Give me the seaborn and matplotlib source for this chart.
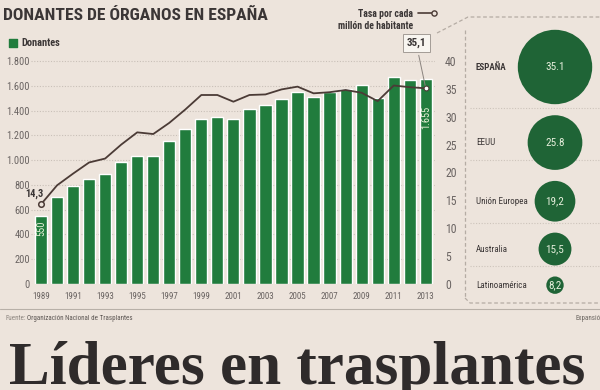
import numpy as np
import matplotlib
matplotlib.use("Agg")
import matplotlib.pyplot as plt
import seaborn as sns
from matplotlib import font_manager

# data
years = [str(y) for y in range(1989, 2014)]
donantes = [550, 705, 792, 848, 889, 985, 1037, 1032, 1155, 1250, 1334, 1345, 1335,
            1409, 1443, 1495, 1546, 1509, 1550, 1577, 1606, 1502, 1667, 1643, 1655]
tasa = [14.3, 17.7, 19.8, 21.8, 22.5, 25.0, 27.2, 26.9, 28.9, 31.3, 33.9, 33.9, 32.7,
        33.9, 34.0, 34.9, 35.4, 34.2, 34.4, 34.8, 34.3, 32.8, 35.6, 35.3, 35.1]
paises = ["ESPAÑA", "EEUU", "Unión Europea", "Australia", "Latinoamérica"]
tasa_paises = [35.1, 25.8, 19.2, 15.5, 8.2]
etiquetas_paises = ["35.1", "25.8", "19,2", "15,5", "8,2"]

BG = "#ede4dc"
GREEN = "#217c3d"
DKGREEN = "#1f6436"
LINE = "#4b3b36"
GRAY = "#6a6462"
DARK = "#3b3636"

sns.set_theme(style="white")
# pick a narrow face if one is installed
entries = font_manager.fontManager.ttflist
narrow = "DejaVu Sans"
for nm in ["Liberation Sans Narrow", "Roboto Condensed", "Open Sans Condensed"]:
    if any(f.name == nm for f in entries):
        narrow = nm
        break
plt.rcParams["font.family"] = [narrow, "DejaVu Sans"]
plt.rcParams["font.stretch"] = "condensed"

fig = plt.figure(figsize=(6, 3.9), dpi=100, facecolor=BG)

# main chart, bars on left axis
ax = fig.add_axes([31.4 / 600, 1 - 284 / 390, 404 / 600, 235.4 / 390])
ax.set_facecolor("none")
sns.barplot(x=years, y=donantes, color=GREEN, saturation=1, width=0.76, ax=ax, zorder=2)
ax.set_xlim(-0.6, len(years) - 0.4)
ax.set_ylim(0, 1900)
ax.set_yticks(range(0, 1801, 200))
ax.set_yticklabels([f"{v:,}".replace(",", ".") for v in range(0, 1801, 200)],
                   fontsize=7.5, color=GRAY)
ax.set_xticks(range(0, len(years), 2))
ax.set_xticklabels(years[::2], fontsize=6.5, color=GRAY)
ax.tick_params(axis="x", length=0, pad=6)
ax.tick_params(axis="y", length=0, pad=1)
ax.yaxis.grid(True, linestyle=(0, (1, 1.5)), color="#c9c0b8", linewidth=0.8, zorder=0)
ax.set_axisbelow(True)
for s in ax.spines.values():
    s.set_visible(False)
ax.set_xlabel("")
ax.set_ylabel("")

# bar value labels
ax.text(0, donantes[0] * 0.82, "550", rotation=90, ha="center", va="center",
        color="#e8f0d8", fontsize=7.5)
ax.text(len(years) - 1, donantes[-1] - 310, f"{donantes[-1]:,}".replace(",", "."),
        rotation=90, ha="center", va="center", color="#e8f0d8", fontsize=7.5)

# rate line on right axis
ax2 = ax.twinx()
x_pos = np.arange(len(years))
sns.lineplot(x=x_pos, y=tasa, color=LINE, linewidth=1.3, ax=ax2, zorder=3)
ax2.plot(x_pos[0], tasa[0], "o", ms=4, mfc=BG, mec=LINE, mew=1.1, zorder=4)
ax2.plot(x_pos[-1], tasa[-1], "o", ms=3.5, mfc="white", mec=LINE, mew=0.8, zorder=4)
ax2.set_ylim(0, 1900 / 45)
ax2.set_yticks(range(0, 41, 5))
ax2.set_yticklabels([str(v) for v in range(0, 41, 5)], fontsize=8.5, color=GRAY)
ax2.tick_params(axis="y", length=0, pad=7)
for s in ax2.spines.values():
    s.set_visible(False)
ax2.set_ylabel("")
ax2.text(x_pos[0] - 0.4, tasa[0] + 1.0, "14,3", ha="center", va="bottom",
         fontsize=7.5, fontweight="bold", color=DARK)
ax2.annotate("35,1", xy=(x_pos[-1], tasa[-1]), xytext=(x_pos[-1] - 0.6, 43.2),
             ha="center", va="center", fontsize=8, fontweight="bold", color=DARK,
             bbox=dict(boxstyle="square,pad=0.35", fc="#f8f5f0", ec="#a39c96", lw=0.7),
             arrowprops=dict(arrowstyle="-", color="#8a837e", lw=0.7), annotation_clip=False)

# overlay in pixel coordinates for titles, legend and side panel
ov = fig.add_axes([0, 0, 1, 1])
ov.set_xlim(0, 600)
ov.set_ylim(390, 0)
ov.set_facecolor("none")
ov.axis("off")

ov.text(3, 16, "DONANTES DE ÓRGANOS EN ESPAÑA", fontsize=12.6, fontweight="bold",
        color=DARK, va="center", ha="left")
ov.scatter([13], [43], marker="s", s=36, color=GREEN)
ov.text(21, 43, "Donantes", fontsize=7.5, fontweight="bold", color=DARK, va="center")
ov.text(413, 20, "Tasa por cada\nmillón de habitante", fontsize=7, fontweight="bold",
        color=DARK, ha="right", va="center", linespacing=1.2)
ov.plot([418, 432], [13, 13], color=LINE, lw=1.2)
ov.scatter([434], [13], s=14, facecolor=BG, edgecolor=LINE, linewidth=1, zorder=3)

# side panel frame
dash = dict(color="#b5aca4", lw=0.9, linestyle=(0, (3, 2)))
ov.plot([437, 468, 600], [33, 17, 17], **dash)
ov.plot([465, 465], [30, 298], **dash)
ov.plot([465, 470, 600], [298, 303, 303], **dash)
for yy in [108, 160, 223, 266]:
    ov.plot([470, 600], [yy, yy], color="#cdc4bb", lw=0.8, linestyle=(0, (1, 1.5)))

# bubbles: radius proportional to the rate
px_per_unit = 1.06
radii = [v * px_per_unit for v in tasa_paises]
gap = 11
cy = [67]
for i in range(1, len(radii)):
    cy.append(cy[-1] + radii[i - 1] + radii[i] + gap)
cx = [555] * len(radii)
sizes = [(2 * r * 0.72) ** 2 for r in radii]
ov.scatter(cx, cy, s=sizes, color=DKGREEN, linewidth=0, zorder=2)
for x, y, lab, name in zip(cx, cy, etiquetas_paises, paises):
    ov.text(x, y, lab, color="#e6efdc", fontsize=8, ha="center", va="center", zorder=3)
    ov.text(476, y, name, color=DARK, fontsize=6.5, ha="left", va="center",
            fontweight="bold" if name == "ESPAÑA" else "normal")

# footer
ov.plot([0, 600], [309, 309], color="#b8b0a8", lw=0.8)
ov.text(5, 318, "Fuente:", fontsize=5, color="#8e8781", va="center")
ov.text(27, 318, "Organización Nacional de Trasplantes", fontsize=5, color="#5d5754", va="center")
ov.text(575, 318, "Expansión", fontsize=5, color="#6d6762", va="center")
ov.text(9, 384, "Líderes en trasplantes", fontsize=44, fontweight="bold",
        family=["Liberation Serif", "DejaVu Serif"], color="#2f2b2b", va="baseline")

fig.savefig("out.png", dpi=100, facecolor=BG)
